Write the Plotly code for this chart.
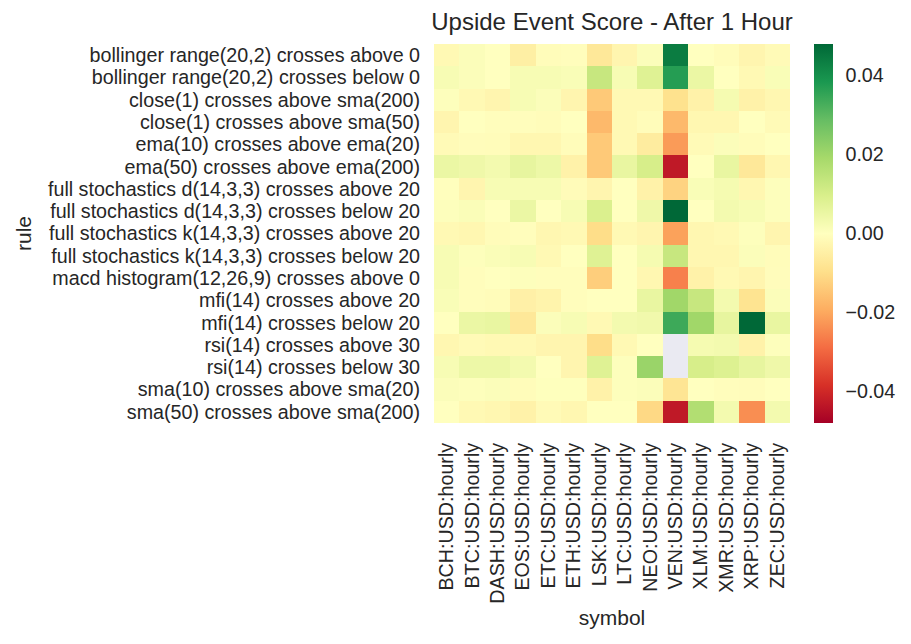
import plotly.graph_objects as go

symbols = ["BCH:USD:hourly", "BTC:USD:hourly", "DASH:USD:hourly", "EOS:USD:hourly",
           "ETC:USD:hourly", "ETH:USD:hourly", "LSK:USD:hourly", "LTC:USD:hourly",
           "NEO:USD:hourly", "VEN:USD:hourly", "XLM:USD:hourly", "XMR:USD:hourly",
           "XRP:USD:hourly", "ZEC:USD:hourly"]

rules = ["bollinger range(20,2) crosses above 0",
         "bollinger range(20,2) crosses below 0",
         "close(1) crosses above sma(200)",
         "close(1) crosses above sma(50)",
         "ema(10) crosses above ema(20)",
         "ema(50) crosses above ema(200)",
         "full stochastics d(14,3,3) crosses above 20",
         "full stochastics d(14,3,3) crosses below 20",
         "full stochastics k(14,3,3) crosses above 20",
         "full stochastics k(14,3,3) crosses below 20",
         "macd histogram(12,26,9) crosses above 0",
         "mfi(14) crosses above 20",
         "mfi(14) crosses below 20",
         "rsi(14) crosses above 30",
         "rsi(14) crosses below 30",
         "sma(10) crosses above sma(20)",
         "sma(50) crosses above sma(200)"]

nan = None
bb_above   = [-0.002, 0.001, 0.0, -0.005, -0.001, -0.0005, -0.007, -0.003, 0.001, 0.044, 0.0, -0.001, -0.003, -0.0015]
bb_below   = [0.002, 0.001, 0.0, 0.002, 0.002, 0.0015, 0.013, 0.002, 0.008, 0.037, 0.005, 0.0, -0.002, 0.0015]
cl_sma200  = [0.0005, -0.002, -0.003, 0.002, 0.001, -0.003, -0.014, -0.002, -0.002, -0.009, -0.004, 0.0025, -0.004, -0.0025]
cl_sma50   = [-0.003, 0.0, -0.0005, -0.0005, -0.001, 0.0, -0.017, -0.002, -0.001, -0.017, -0.0025, -0.0025, 0.0, -0.0015]
ema10_20   = [-0.0015, -0.0008, -0.001, -0.0025, -0.0025, -0.001, -0.014, -0.002, -0.006, -0.022, -0.0015, 0.001, -0.001, 0.0]
ema50_200  = [0.005, 0.004, 0.003, 0.006, 0.0045, -0.004, -0.014, 0.0055, 0.010, -0.043, 0.0, 0.0055, -0.007, -0.0025]
fsd_above  = [-0.0003, -0.003, 0.002, 0.002, 0.002, -0.0012, -0.003, 0.0, -0.004, -0.012, 0.0015, 0.0025, -0.0025, 0.0005]
fsd_below  = [0.0005, 0.0013, 0.0, 0.005, 0.0, 0.002, 0.009, 0.0, 0.004, 0.048, 0.0, 0.003, 0.002, 0.0005]
fsk_above  = [-0.002, -0.0025, -0.001, -0.0005, -0.0025, -0.002, -0.010, -0.002, -0.003, -0.021, -0.0025, -0.002, 0.0005, -0.003]
fsk_below  = [0.002, 0.0005, 0.0013, 0.002, -0.002, 0.0, 0.008, 0.0, 0.0025, 0.013, -0.0025, -0.0025, 0.001, -0.001]
macd_above = [0.002, -0.0005, 0.0, 0.0005, -0.0005, -0.0005, -0.013, 0.0, -0.0025, -0.026, -0.004, -0.002, -0.003, -0.0008]
mfi_above  = [0.0015, -0.0005, -0.001, -0.0045, -0.0035, -0.0005, 0.0, 0.0, 0.0055, 0.020, 0.013, 0.003, -0.0085, 0.001]
mfi_below  = [0.0, 0.005, 0.0055, -0.007, 0.001, 0.002, -0.002, 0.003, 0.0035, 0.034, 0.020, 0.006, 0.048, 0.0055]
rsi_above  = [-0.0025, -0.0015, -0.002, -0.002, -0.003, -0.003, -0.010, -0.002, 0.0, nan, 0.0025, 0.003, -0.004, 0.0005]
rsi_below  = [0.002, 0.0045, 0.0045, 0.003, 0.0, -0.003, 0.008, 0.0005, 0.021, nan, 0.010, 0.0085, 0.006, 0.004]
sma10_20   = [0.001, 0.0005, 0.001, -0.001, 0.0003, 0.0003, -0.004, 0.0005, 0.001, -0.008, 0.0, -0.0005, -0.0008, 0.0]
sma50_200  = [0.0, -0.002, -0.0025, -0.004, -0.0015, -0.0025, 0.0, 0.0, -0.011, -0.043, 0.017, 0.003, -0.024, 0.003]

z = [bb_above, bb_below, cl_sma200, cl_sma50, ema10_20, ema50_200, fsd_above, fsd_below,
     fsk_above, fsk_below, macd_above, mfi_above, mfi_below, rsi_above, rsi_below,
     sma10_20, sma50_200]

zlim = 0.048
FONT = "Liberation Sans, Arial, sans-serif"
TXT = "#262626"
TICK = 19.7

W, H = 903, 636          # page body has an 8px margin
L, T = 426, 36
PW, PH = 356, 379
R = W - L - PW
B = H - T - PH

fig = go.Figure(go.Heatmap(
    z=z, x=symbols, y=rules,
    colorscale="RdYlGn", zmin=-zlim, zmax=zlim,
    xgap=0, ygap=0,
    colorbar=dict(
        x=(814 - 434) / PW, xanchor="left", xref="paper",
        y=0.5, yanchor="middle", len=1, lenmode="fraction",
        thickness=19, thicknessmode="pixels",
        outlinewidth=0, ypad=0, xpad=0,
        tickvals=[-0.04, -0.02, 0.0, 0.02, 0.04],
        ticktext=["\u22120.04", "\u22120.02", "0.00", "0.02", "0.04"],
        ticks="outside", ticklen=9, tickcolor="rgba(0,0,0,0)",
        tickfont=dict(family=FONT, size=TICK, color=TXT),
    ),
))

fig.update_layout(
    width=W, height=H,
    margin=dict(l=L, r=R, t=T, b=B, pad=0),
    paper_bgcolor="white", plot_bgcolor="#eaeaf2",
    font=dict(family=FONT, size=TICK, color=TXT),
    title=dict(text="Upside Event Score - After 1 Hour", x=0.5, xref="paper",
               xanchor="center", y=1 - 14 / H, yanchor="middle",
               font=dict(family=FONT, size=24, color=TXT)),
    xaxis=dict(tickangle=-90, showgrid=False, zeroline=False, automargin=False,
               tickmode="array", tickvals=symbols,
               ticks="outside", ticklen=11, tickcolor="rgba(0,0,0,0)",
               tickfont=dict(family=FONT, size=TICK, color=TXT),
               title=dict(text="symbol", standoff=7,
                          font=dict(family=FONT, size=21, color=TXT))),
    yaxis=dict(autorange="reversed", showgrid=False, zeroline=False, automargin=False,
               tickmode="array", tickvals=rules,
               ticks="outside", ticklen=9, tickcolor="rgba(0,0,0,0)",
               tickfont=dict(family=FONT, size=TICK, color=TXT),
               title=dict(text="rule", standoff=10,
                          font=dict(family=FONT, size=21, color=TXT))),
)

fig.write_html("out.html")
